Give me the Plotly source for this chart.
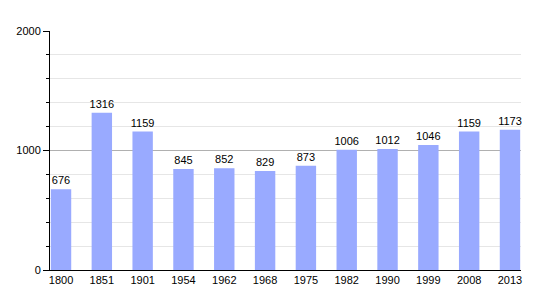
import plotly.graph_objects as go

years = ["1800", "1851", "1901", "1954", "1962", "1968", "1975", "1982", "1990", "1999", "2008", "2013"]
population = [676, 1316, 1159, 845, 852, 829, 873, 1006, 1012, 1046, 1159, 1173]

fig = go.Figure(go.Bar(
    x=years, y=population, width=0.5,
    marker=dict(color="#99aaff", line=dict(width=0)),
    text=[str(v) for v in population], textposition="outside",
    textfont=dict(size=11, color="black", family="Liberation Sans, Arial"),
    cliponaxis=False,
))

fig.update_layout(
    width=550, height=300,
    margin=dict(l=50, r=29, t=31, b=30),
    plot_bgcolor="white", paper_bgcolor="white",
    showlegend=False,
    bargap=0.5,
    uniformtext=dict(minsize=11, mode="show"),
    font=dict(family="Liberation Sans, Arial", size=11, color="black"),
    xaxis=dict(type="category", range=[-0.27, 11.27], showline=True, linecolor="black",
               linewidth=1, ticks="", showgrid=False, tickfont=dict(size=11)),
    yaxis=dict(range=[0, 2000], dtick=1000, showline=True, linecolor="black", linewidth=1,
               ticks="outside", ticklen=6, tickcolor="black", gridcolor="#b0b0b0",
               zeroline=False, tickfont=dict(size=11),
               minor=dict(dtick=200, showgrid=True, gridcolor="#e6e6e6", ticks="outside",
                          ticklen=3, tickcolor="black")),
)

fig.write_html("out.html")
